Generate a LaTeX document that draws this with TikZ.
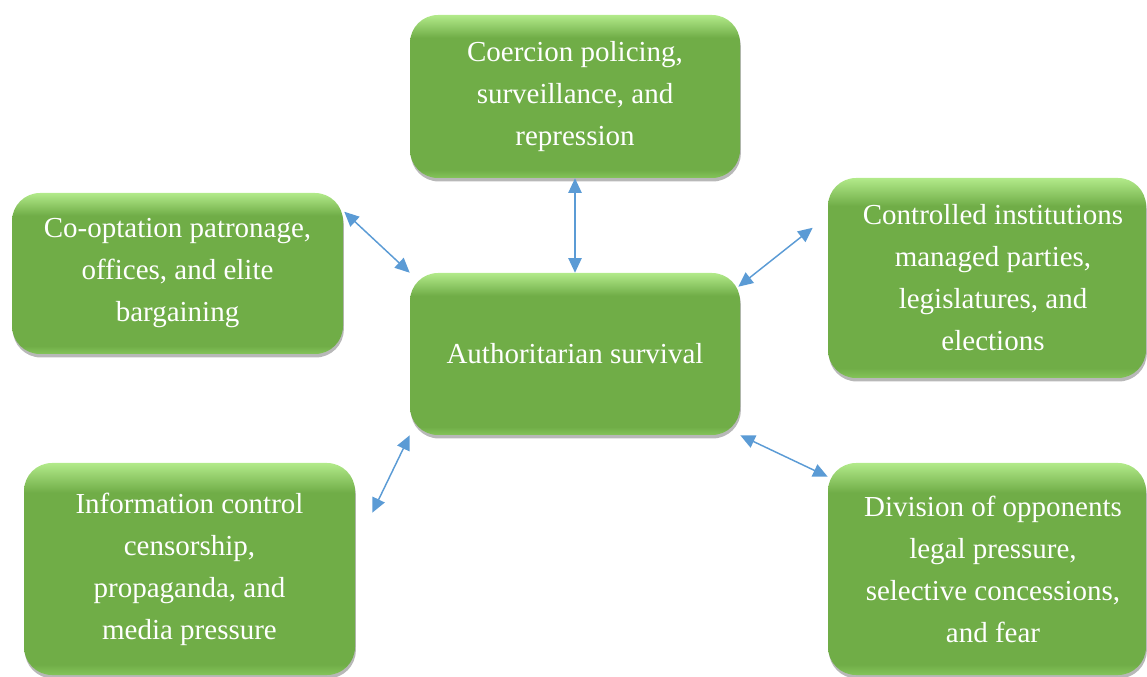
\documentclass[tikz,border=0pt]{standalone}
\usepackage{fontspec}
\setmainfont{Liberation Serif}
\usetikzlibrary{arrows.meta,calc,shadows}
\definecolor{boxgreen}{RGB}{112,173,71}
\definecolor{boxlight}{RGB}{178,234,138}
\definecolor{boxrim}{RGB}{132,196,90}
\definecolor{linkblue}{RGB}{91,155,213}
% card fill: light rim on top, flat body, faint light rim at the bottom
% (bounding box of the card maps to 25bp..75bp)
\pgfdeclareverticalshading{cardfill}{100bp}{%
  color(0bp)=(boxrim); color(25bp)=(boxrim); color(27.5bp)=(boxgreen);
  color(68bp)=(boxgreen); color(75bp)=(boxlight); color(100bp)=(boxlight)}
\tikzset{
  card/.style={draw=none, shading=cardfill, rounded corners=21pt, text=white,
    align=center, inner sep=0pt,
    font=\fontsize{21.75}{31.5}\selectfont,
    drop shadow={shadow xshift=0.6pt, shadow yshift=-2.6pt, opacity=0.28, fill=black}},
  link/.style={linkblue, line width=1.1pt,
    {Triangle[length=11pt,width=10pt]}-{Triangle[length=11pt,width=10pt]}}
}
\begin{document}
\begin{tikzpicture}[x=0.75pt,y=-0.75pt]
  \useasboundingbox (0,0) rectangle (1147,677);
  \clip (0,0) rectangle (1147,677);

  % hub
  \node[card, minimum width=247.5pt, minimum height=121.5pt] (hub) at (575,354)
    {Authoritarian survival};

  % surrounding mechanisms
  \node[card, minimum width=247.5pt, minimum height=122.25pt] (coer) at (575,96.5)
    {Coercion policing,\\surveillance, and\\repression};
  \node[card, minimum width=248.25pt, minimum height=120.75pt] (coopt) at (177.5,273.5)
    {Co-optation patronage,\\offices, and elite\\bargaining};
  \node[card, minimum width=238.5pt, minimum height=150pt] (ctrl) at (987,278)
    {\hspace*{9pt}Controlled institutions\\\hspace*{9pt}managed parties,\\\hspace*{9pt}legislatures, and\\\hspace*{9pt}elections};
  \node[card, minimum width=248.25pt, minimum height=159pt] (info) at (189.5,569)
    {Information control\\censorship,\\propaganda, and\\media pressure};
  \node[card, minimum width=238.5pt, minimum height=159pt] (divi) at (987,569)
    {\hspace*{9pt}Division of opponents\\\hspace*{9pt}legal pressure,\\\hspace*{9pt}selective concessions,\\\hspace*{9pt}and fear};

  % two-way links
  \draw[link] (coer.south) -- (hub.north);
  \draw[link] ($(coopt.north east)+(1,19)$) -- (hub.north west);
  \draw[link] ($(hub.north east)+(-2,14)$) -- ($(ctrl.north west)+(-15,50)$);
  \draw[link] (hub.south west) -- ($(info.north east)+(17,50)$);
  \draw[link] (hub.south east) -- ($(divi.north west)+(0,14)$);
\end{tikzpicture}
\end{document}
